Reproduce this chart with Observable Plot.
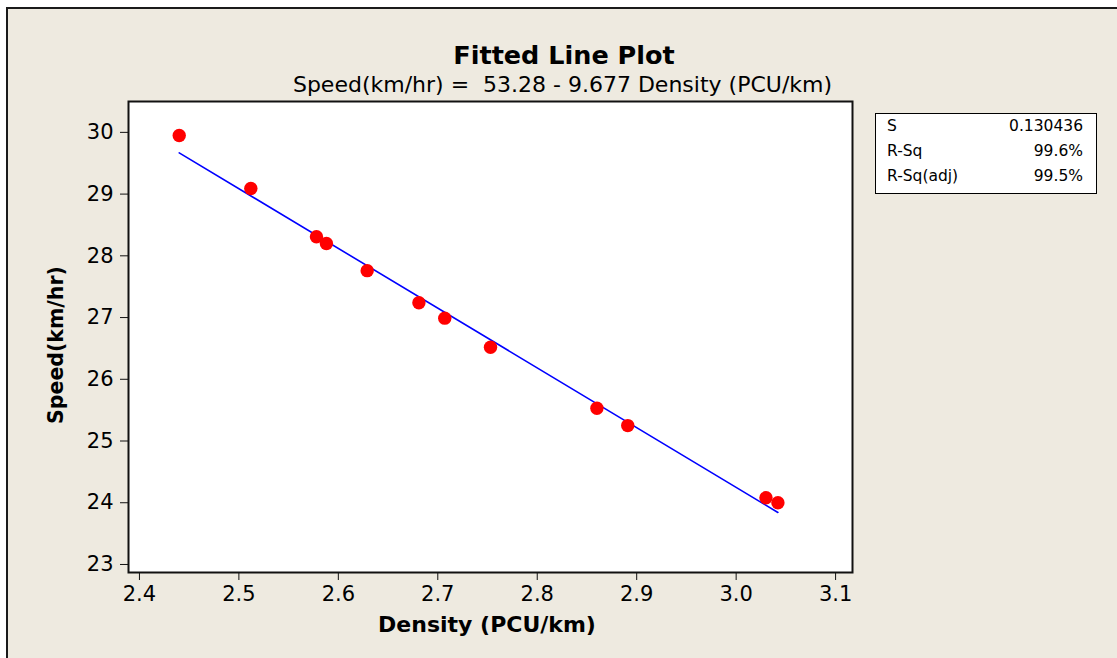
<!DOCTYPE html>
<html><head><meta charset="utf-8">
<script src="https://cdn.jsdelivr.net/npm/d3@7"></script>
<script src="https://cdn.jsdelivr.net/npm/@observablehq/plot@0.6"></script>
<style>
body{margin:0;background:#fff;font-family:"DejaVu Sans",Verdana,sans-serif;}
#wrap{position:relative;width:1117px;height:658px;overflow:hidden;}
#panel{position:absolute;left:6px;top:7px;width:1111px;height:651px;background:#EEEAE0;border-left:2px solid #1a1a1a;border-top:2px solid #1a1a1a;}
.t{position:absolute;white-space:nowrap;color:#000;}
#title{left:0;width:1128px;text-align:center;top:40px;font-size:25.5px;font-weight:bold;}
#sub{left:0;width:1125px;text-align:center;top:72px;font-size:22px;}
#xlab{left:0;width:974px;text-align:center;top:612px;font-size:22px;font-weight:bold;}
#ylab{left:56px;top:345px;font-size:20.5px;font-weight:bold;transform:translate(-50%,-50%) rotate(-90deg);}
#stats{position:absolute;left:875px;top:113px;width:222px;height:81px;border:1px solid #000;background:#fff;font-size:15.5px;box-sizing:border-box;}
#stats .row{position:absolute;left:11px;right:13px;height:20px;}
#stats .row span:last-child{position:absolute;right:0;}
#chart{position:absolute;left:0;top:0;}
</style></head>
<body>
<div id="wrap">
  <div id="panel"></div>
  <div id="chart"></div>
  <div class="t" id="title">Fitted Line Plot</div>
  <div class="t" id="sub">Speed(km/hr) =&nbsp; 53.28 - 9.677 Density (PCU/km)</div>
  <div class="t" id="xlab">Density (PCU/km)</div>
  <div class="t" id="ylab">Speed(km/hr)</div>
  <div id="stats"></div>
</div>
<script>
// Data
const density = [2.440, 2.512, 2.578, 2.588, 2.629, 2.681, 2.707, 2.753, 2.860, 2.891, 3.030, 3.042];
const speed   = [29.95, 29.09, 28.31, 28.20, 27.76, 27.24, 26.99, 26.52, 25.53, 25.25, 24.08, 24.00];
const intercept = 53.28;
const slope = -9.677;
const xTicks = [2.4, 2.5, 2.6, 2.7, 2.8, 2.9, 3.0, 3.1];
const yTicks = [23, 24, 25, 26, 27, 28, 29, 30];
const statLabels = ["S", "R-Sq", "R-Sq(adj)"];
const statValues = ["0.130436", "99.6%", "99.5%"];

const pts = density.map((d, i) => ({x: d, y: speed[i]}));
const xMin = d3.min(density), xMax = d3.max(density);
const fit = [xMin, xMax].map(x => ({x, y: intercept + slope * x}));

const plot = Plot.plot({
  width: 1117,
  height: 658,
  marginLeft: 128,
  marginRight: 265,
  marginTop: 101,
  marginBottom: 86,
  style: {background: "transparent", fontFamily: "DejaVu Sans, Verdana, sans-serif", fontSize: "21px", color: "#000"},
  x: {domain: [2.389, 3.117]},
  y: {domain: [22.87, 30.50]},
  marks: [
    Plot.rect([0], {x1: 2.389, x2: 3.117, y1: 22.87, y2: 30.50, fill: "#fff"}),
    Plot.line(fit, {x: "x", y: "y", stroke: "#0000FF", strokeWidth: 1.6}),
    Plot.dot(pts, {x: "x", y: "y", r: 6.7, fill: "#FF0000", stroke: "none"}),
    Plot.frame({stroke: "#111", strokeWidth: 2}),
    Plot.axisX({ticks: xTicks, tickFormat: d3.format(".1f"), tickSize: 8, tickPadding: 6, tickStrokeWidth: 2, stroke: "#111", label: null, fontSize: 21}),
    Plot.axisY({ticks: yTicks, tickFormat: d3.format("d"), tickSize: 8, tickPadding: 7, tickStrokeWidth: 2, stroke: "#111", label: null, fontSize: 21})
  ]
});
document.getElementById("chart").appendChild(plot);

const stats = document.getElementById("stats");
statLabels.forEach((l, i) => {
  const row = document.createElement("div");
  row.className = "row";
  row.style.top = (3 + i * 25) + "px";
  row.innerHTML = `<span>${l}</span><span>${statValues[i]}</span>`;
  stats.appendChild(row);
});
</script>
</body></html>
